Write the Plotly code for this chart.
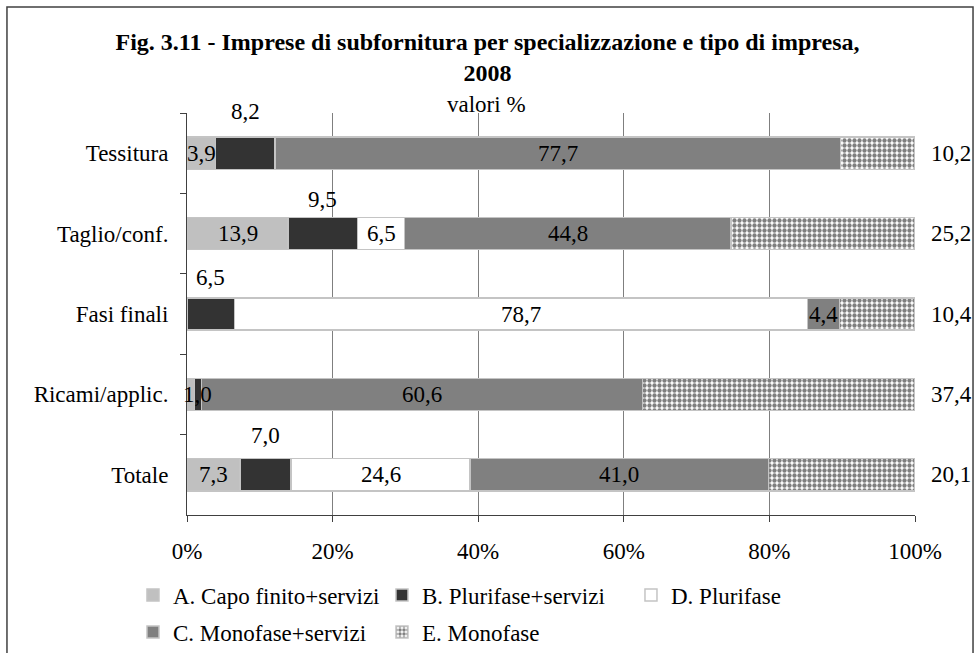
import plotly.graph_objects as go

# values (percent of firms per row)
categories = ['Tessitura', 'Taglio/conf.', 'Fasi finali', 'Ricami/applic.', 'Totale']
series_names = ['A. Capo finito+servizi', 'B. Plurifase+servizi', 'D. Plurifase',
                'C. Monofase+servizi', 'E. Monofase']
a_capo_finito = [3.9, 13.9, 0.0, 1.0, 7.3]
b_plurifase_serv = [8.2, 9.5, 6.5, 1.0, 7.0]
d_plurifase = [0.0, 6.5, 78.7, 0.0, 24.6]
c_monofase_serv = [77.7, 44.8, 4.4, 60.6, 41.0]
e_monofase = [10.2, 25.2, 10.4, 37.4, 20.1]
x_tick_vals = [0, 20, 40, 60, 80, 100]
x_tick_text = ['0%', '20%', '40%', '60%', '80%', '100%']

series = [a_capo_finito, b_plurifase_serv, d_plurifase, c_monofase_serv, e_monofase]

# styling
FONT = 'Liberation Serif, Times New Roman, serif'
FS = 23
colours = ['#C0C0C0', '#333333', '#FFFFFF', '#808080', '#FFFFFF']
legend_ids = ['legend', 'legend', 'legend', 'legend2', 'legend2']
b_label_shift = [42, 34, 37, 0, 39]   # B labels sit above the bar, except Ricami
hidden_labels = {(0, 3)}              # A label of Ricami overlaps B's

fig = go.Figure()
for k, (name, vals) in enumerate(zip(series_names, series)):
    marker = dict(color=colours[k], line=dict(color='#C4C4C4', width=1.5))
    if k == 4:
        marker['pattern'] = dict(shape='.', fgcolor='#000000', bgcolor='#FFFFFF',
                                 size=5, solidity=0.6)
    fig.add_trace(go.Bar(y=categories, x=vals, name=name, orientation='h',
                         marker=marker, legend=legend_ids[k], hoverinfo='skip'))

# data labels
for i, cat in enumerate(categories):
    start = 0.0
    for k, vals in enumerate(series):
        v = vals[i]
        if v > 0 and (k, i) not in hidden_labels:
            txt = f'{v:.1f}'.replace('.', ',')
            ann = dict(y=cat, text=txt, showarrow=False,
                       font=dict(family=FONT, size=FS, color='black'))
            if k == 4:
                ann.update(x=100, xanchor='left', xshift=14)
            else:
                ann.update(x=start + v / 2, xanchor='center')
                if k == 1:
                    ann.update(yshift=b_label_shift[i])
            fig.add_annotation(**ann)
        start += v

fig.add_annotation(text='valori %', xref='paper', yref='paper', x=0.412, y=1.02,
                   yanchor='middle', showarrow=False,
                   font=dict(family=FONT, size=FS, color='black'))

# outer chart frame
fig.add_shape(type='rect', xref='paper', yref='paper', x0=-0.2473, x1=1.0797,
              y0=-0.4, y1=1.2637, line=dict(color='#404040', width=1.5), layer='below')

legend_style = dict(orientation='h', xanchor='left', yanchor='middle',
                    entrywidth=204, entrywidthmode='pixels', traceorder='normal',
                    font=dict(family=FONT, size=FS))

fig.update_layout(
    width=975, height=653,
    margin=dict(l=187, r=60, t=113, b=138, autoexpand=False),
    paper_bgcolor='white', plot_bgcolor='white',
    barmode='stack', bargap=0.6,
    font=dict(family=FONT, size=FS, color='black'),
    title=dict(text='<b>Fig. 3.11 - Imprese di subfornitura per specializzazione e tipo di impresa,'
                    '<br>2008</b>',
               x=0.5, xref='container', y=1 - 50 / 653, yanchor='top',
               font=dict(family=FONT, size=24, color='black')),
    xaxis=dict(range=[0, 100], tickvals=x_tick_vals, ticktext=x_tick_text,
               showgrid=True, gridcolor='#7F7F7F', gridwidth=1,
               showline=True, linecolor='#404040', linewidth=1,
               ticks='outside', ticklen=6, tickcolor='#404040',
               ticklabelstandoff=9, zeroline=False,
               tickfont=dict(family=FONT, size=FS)),
    yaxis=dict(range=[len(categories) - 0.5, -0.5], tickson='boundaries',
               showline=True, linecolor='#404040', linewidth=1,
               ticks='outside', ticklen=6, tickcolor='#404040',
               ticklabelstandoff=13, showgrid=False,
               tickfont=dict(family=FONT, size=FS)),
    legend=dict(legend_style, x=-0.0742, y=-0.199),
    legend2=dict(legend_style, x=-0.0742, y=-0.291),
)

# drop the page's default body margin so the figure fills the window
fig.write_html('out.html', config={'displayModeBar': False},
               post_script="document.body.style.margin='0';")
